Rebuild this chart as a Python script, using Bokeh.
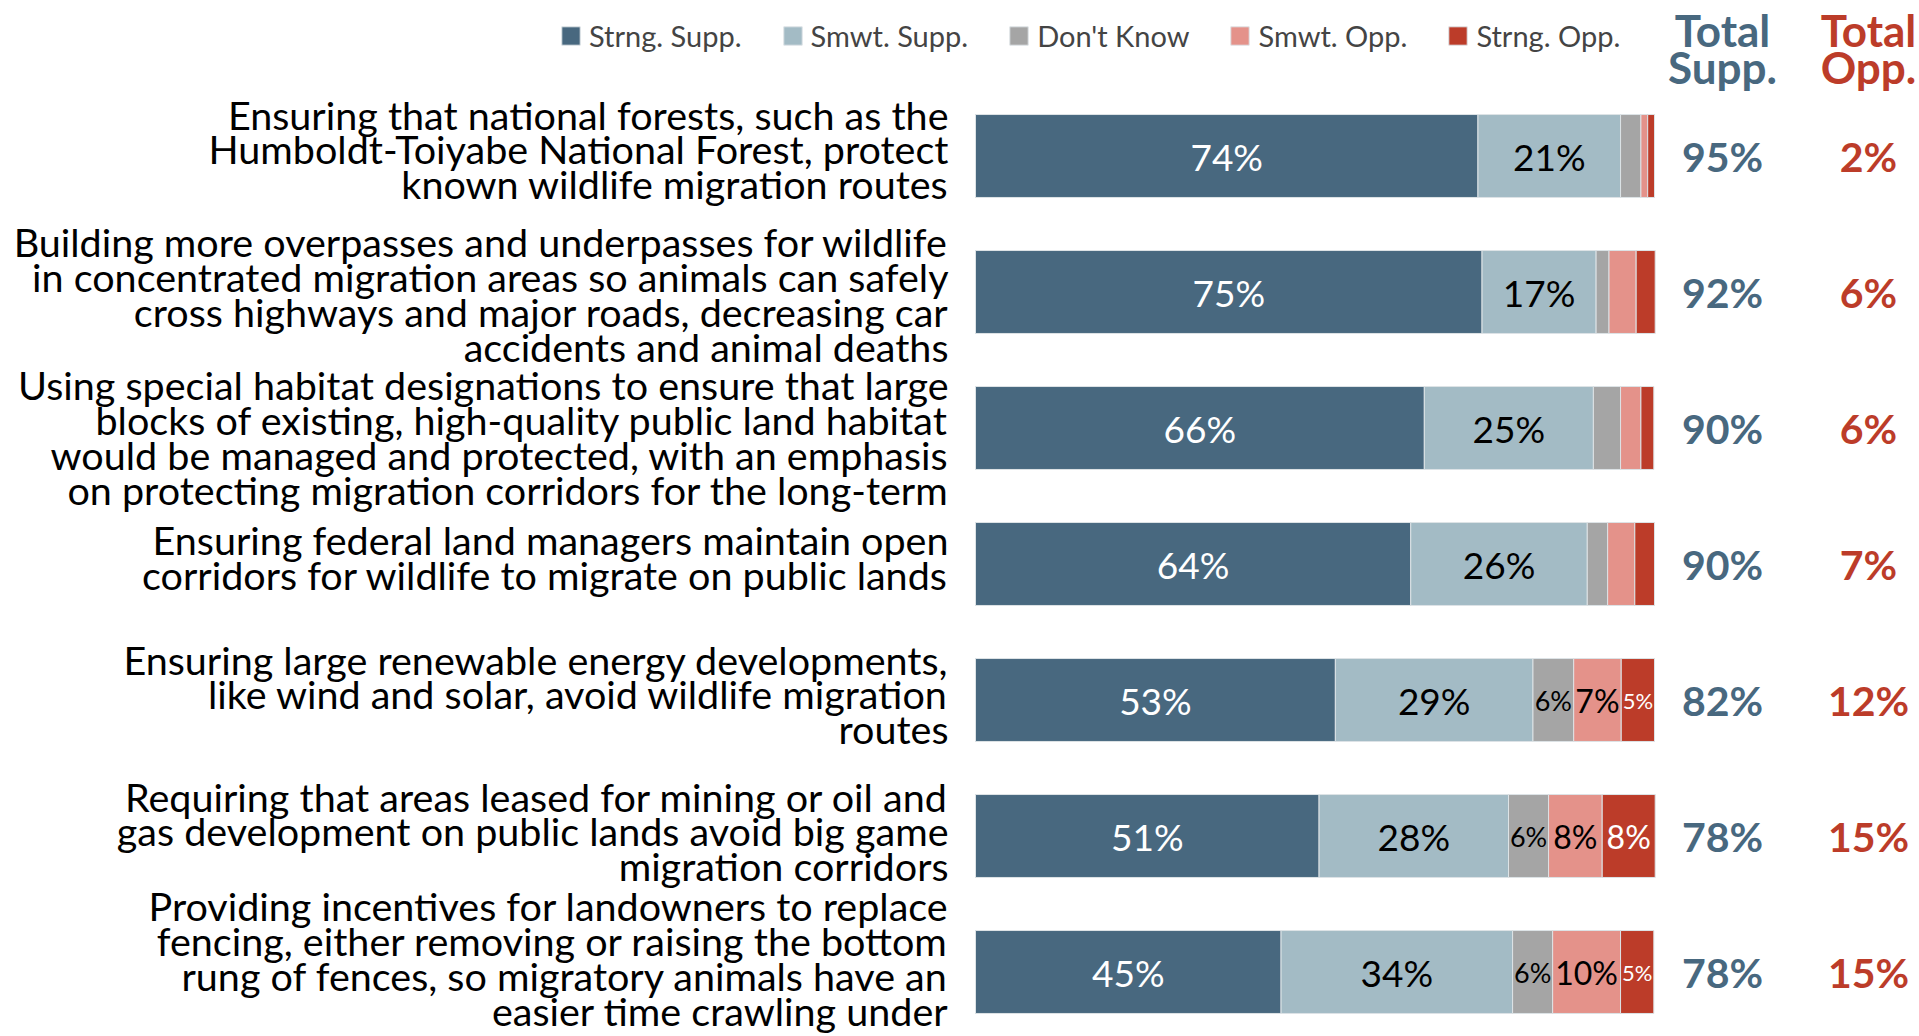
from bokeh.plotting import figure
from bokeh.models import Range1d, ColumnDataSource, Legend, LegendItem
from bokeh.core.properties import value
from bokeh.embed import file_html
from bokeh.resources import INLINE

# ---------------- data ----------------
questions = [
    "Ensuring that national forests, such as the\nHumboldt-Toiyabe National Forest, protect\nknown wildlife migration routes",
    "Building more overpasses and underpasses for wildlife\nin concentrated migration areas so animals can safely\ncross highways and major roads, decreasing car\naccidents and animal deaths",
    "Using special habitat designations to ensure that large\nblocks of existing, high-quality public land habitat\nwould be managed and protected, with an emphasis\non protecting migration corridors for the long-term",
    "Ensuring federal land managers maintain open\ncorridors for wildlife to migrate on public lands",
    "Ensuring large renewable energy developments,\nlike wind and solar, avoid wildlife migration\nroutes",
    "Requiring that areas leased for mining or oil and\ngas development on public lands avoid big game\nmigration corridors",
    "Providing incentives for landowners to replace\nfencing, either removing or raising the bottom\nrung of fences, so migratory animals have an\neasier time crawling under",
]
series_names = ["Strng. Supp.", "Smwt. Supp.", "Don't Know", "Smwt. Opp.", "Strng. Opp."]
strng_supp = [74.0, 74.6, 66.1, 64.1, 53.0, 50.6, 45.0]
smwt_supp = [21.0, 16.8, 24.9, 26.0, 29.1, 27.9, 34.1]
dont_know = [3.0, 1.9, 4.0, 3.0, 6.0, 5.9, 5.9]
smwt_opp = [1.0, 4.0, 3.0, 4.0, 7.0, 7.9, 10.0]
strng_opp = [1.0, 2.8, 1.9, 2.9, 4.9, 7.8, 4.9]
total_supp = [95, 92, 90, 90, 82, 78, 78]
total_opp = [2, 6, 6, 7, 12, 15, 15]

# ---------------- style / layout ----------------
colors = ["#48687f", "#a3bbc5", "#a5a5a5", "#e4928a", "#bc3c29"]
label_colors = ["white", "black", "black", "black", "white"]
FONT = "Lato"
W, H = 1917, 1034
PX_PER_PCT = 6.79
ZERO_PX = 975.0
ROW_PX = 136.0
FIRST_ROW_PX = 155.5
label_nudge_px = [-7, 2, 9, -7, -6, -5, -14]


def ypx(px):
    return (px - FIRST_ROW_PX) / ROW_PX


def xpx(px):
    return (px - ZERO_PX) / PX_PER_PCT


p = figure(width=W, height=H, output_backend="svg", toolbar_location=None,
           x_range=Range1d(xpx(0), xpx(W)),
           y_range=Range1d(ypx(H), ypx(0)),
           min_border=0, x_axis_location=None, y_axis_location=None)
p.outline_line_color = None
p.xgrid.visible = False
p.ygrid.visible = False
p.background_fill_color = "white"
p.border_fill_color = "white"

rows = list(range(len(questions)))
keys = ["s1", "s2", "s3", "s4", "s5"]
src = ColumnDataSource(dict(y=rows, s1=strng_supp, s2=smwt_supp, s3=dont_know,
                            s4=smwt_opp, s5=strng_opp))
renderers = p.hbar_stack(keys, y="y", height=0.61, color=colors, source=src,
                         line_color="#dde3e6", line_width=1)

# segment labels
lx, ly, lt, lc, ls = [], [], [], [], []
all_series = [strng_supp, smwt_supp, dont_know, smwt_opp, strng_opp]
for i in rows:
    left = 0.0
    for k, ser in enumerate(all_series):
        v = ser[i]
        if v >= 4.5:
            if v >= 15:
                size = "37px"
            elif v >= 6.5:
                size = "32px"
            elif v >= 5.5:
                size = "27px"
            else:
                size = "22px"
            lx.append(left + v / 2)
            ly.append(i)
            lt.append(f"{round(v)}%")
            lc.append(label_colors[k])
            ls.append(size)
        left += v
lab_src = ColumnDataSource(dict(x=lx, y=ly, text=lt, color=lc, size=ls))
p.text(x="x", y="y", text="text", text_color="color", text_font_size="size",
       text_align="center", text_baseline="middle", text_font=value(FONT),
       source=lab_src)

# category labels
p.text(x=[xpx(948)] * len(rows),
       y=[r + d / ROW_PX for r, d in zip(rows, label_nudge_px)], text=questions,
       text_align="right", text_baseline="middle", text_font=value(FONT),
       text_font_size="39.5px", text_color="black", text_line_height=0.74)

# totals
X_SUPP = xpx(1722)
X_OPP = xpx(1868)
p.text(x=[X_SUPP] * len(rows), y=rows, text=[f"{v}%" for v in total_supp],
       text_align="center", text_baseline="middle", text_font=value(FONT),
       text_font_style="bold", text_font_size="41px", text_color=colors[0])
p.text(x=[X_OPP] * len(rows), y=rows, text=[f"{v}%" for v in total_opp],
       text_align="center", text_baseline="middle", text_font=value(FONT),
       text_font_style="bold", text_font_size="41px", text_color=colors[4])

# headers
hy = [ypx(29), ypx(66)]
p.text(x=[X_SUPP, X_SUPP], y=hy, text=["Total", "Supp."],
       text_align="center", text_baseline="middle", text_font=value(FONT),
       text_font_style="bold", text_font_size="44px", text_color=colors[0])
p.text(x=[X_OPP, X_OPP], y=hy, text=["Total", "Opp."],
       text_align="center", text_baseline="middle", text_font=value(FONT),
       text_font_style="bold", text_font_size="44px", text_color=colors[4])

legend = Legend(items=[LegendItem(label=n, renderers=[r]) for n, r in zip(series_names, renderers)],
                orientation="horizontal", location=(559, H - 36 - 17),
                glyph_width=23, glyph_height=23, label_standoff=7, spacing=39,
                label_text_font=FONT, label_text_font_size="29px", label_height=30,
                padding=0, margin=0, border_line_color=None, background_fill_alpha=0)
p.add_layout(legend, "center")

open("out.html", "w").write(file_html(p, INLINE))
